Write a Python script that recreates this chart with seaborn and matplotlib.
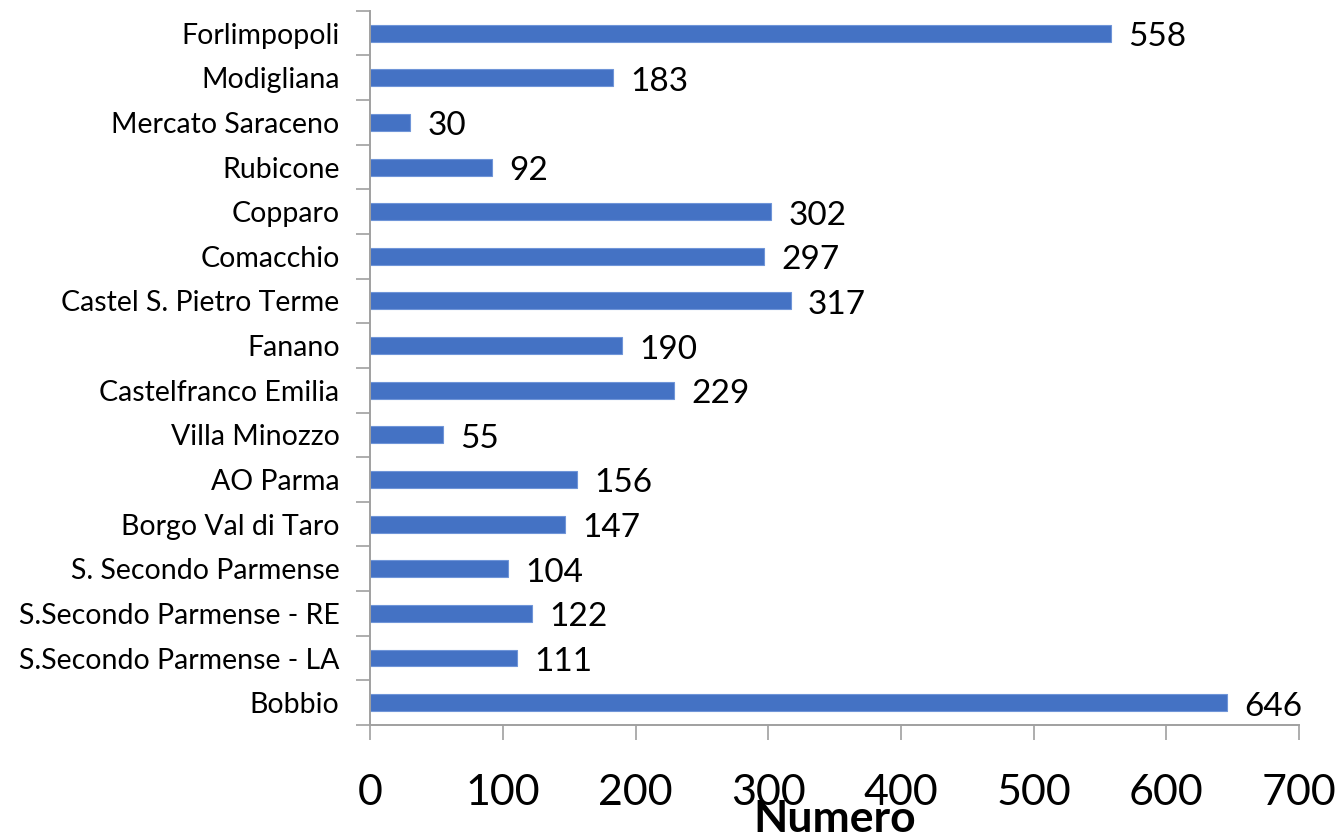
import matplotlib
matplotlib.use("Agg")
import matplotlib.pyplot as plt
import seaborn as sns
import pandas as pd
import numpy as np

categories = ["Forlimpopoli", "Modigliana", "Mercato Saraceno", "Rubicone", "Copparo",
              "Comacchio", "Castel S. Pietro Terme", "Fanano", "Castelfranco Emilia",
              "Villa Minozzo", "AO Parma", "Borgo Val di Taro", "S. Secondo Parmense",
              "S.Secondo Parmense - RE", "S.Secondo Parmense - LA", "Bobbio"]
values = [558, 183, 30, 92, 302, 297, 317, 190, 229, 55, 156, 147, 104, 122, 111, 646]
xticks = [0, 100, 200, 300, 400, 500, 600, 700]

sns.set_style("white")
plt.rcParams['font.family'] = ['Lato', 'DejaVu Sans']
plt.rcParams['text.color'] = 'black'
plt.rcParams['xtick.labelcolor'] = 'black'
plt.rcParams['ytick.labelcolor'] = 'black'
plt.rcParams['axes.labelcolor'] = 'black'

df = pd.DataFrame({"cat": categories, "val": values})
fig = plt.figure(figsize=(13.41, 8.33), dpi=100)
ax = fig.add_axes([0.276, 0.1297, 0.6927, 0.8573])
sns.barplot(data=df, x="val", y="cat", color="#4472C4", width=0.38, ax=ax,
            saturation=1, edgecolor="#6f95d8", linewidth=0.8)

ax.set_xlim(0, 700)
ax.set_ylim(len(categories) - 0.5, -0.5)
ax.set_xticks(xticks)
ax.set_xticklabels([str(t) for t in xticks], fontsize=31)
ax.tick_params(axis="x", length=11, width=1.2, color="#a0a0a0", pad=24, direction="out", bottom=True)
ax.tick_params(axis="y", which="major", length=0, labelsize=20.5, pad=22)
ax.set_yticks(np.arange(-0.5, len(categories) + 0.5, 1), minor=True)
ax.tick_params(axis="y", which="minor", length=10, width=1.2, color="#a0a0a0", left=True)

for s in ["top", "right"]:
    ax.spines[s].set_visible(False)
for s in ["left", "bottom"]:
    ax.spines[s].set_color("#a0a0a0")
    ax.spines[s].set_linewidth(1.4)

for i, v in enumerate(values):
    ax.text(v + 13, i + 0.09, str(v), va="center", ha="left", fontsize=24, color="black")

ax.set_ylabel("")
ax.set_xlabel("Numero", fontsize=32, fontweight="bold", labelpad=-9)

fig.savefig("out.png", dpi=100)
